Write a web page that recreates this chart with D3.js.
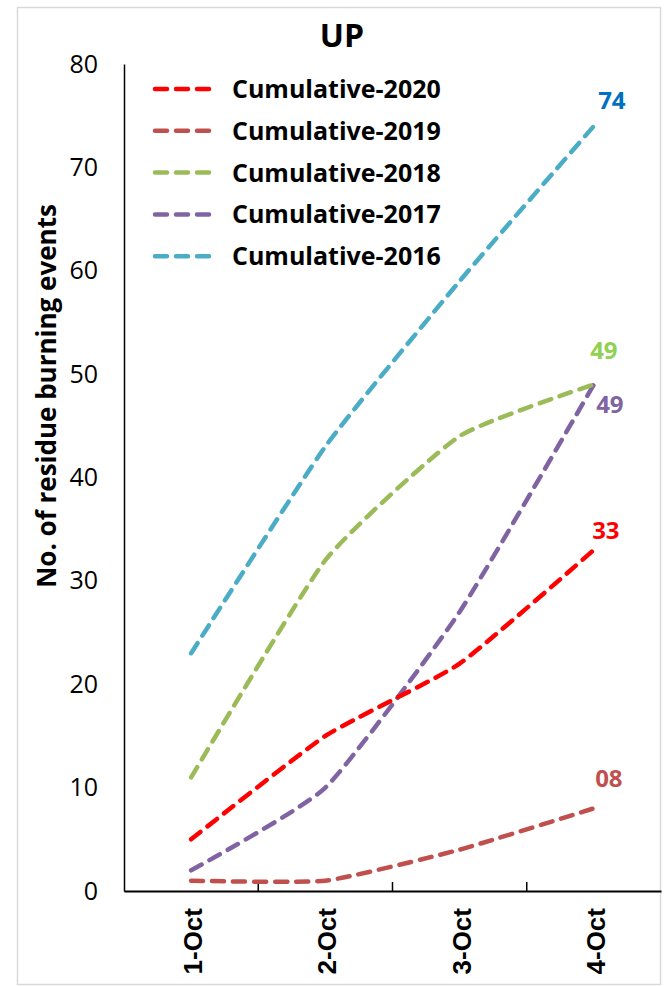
<!DOCTYPE html>
<html>
<head>
<meta charset="utf-8">
<script src="https://cdn.jsdelivr.net/npm/d3@7.9.0/dist/d3.min.js"></script>
<style>
  body { margin: 0; background: #fff; }
  svg { display: block; font-family: "Open Sans", sans-serif; }
</style>
</head>
<body>
<div id="chart"></div>
<script>
const days = ['1-Oct', '2-Oct', '3-Oct', '4-Oct'];
const seriesNames = ['Cumulative-2020', 'Cumulative-2019', 'Cumulative-2018', 'Cumulative-2017', 'Cumulative-2016'];
const values2020 = [5, 15, 22, 33];
const values2019 = [1, 1, 4, 8];
const values2018 = [11, 32, 44, 49];
const values2017 = [2, 10, 27, 49];
const values2016 = [23, 43, 59, 74];
const endLabels = ['33', '08', '49', '49', '74'];
const yTicks = [0, 10, 20, 30, 40, 50, 60, 70, 80];

const lineColors = ['#FF0000', '#C0504D', '#9BBB59', '#8064A2', '#4BACC6'];
const labelColors = ['#FF0000', '#C0504D', '#92D050', '#8064A2', '#0070C0'];
// label offsets from the last point (dx, dy)
const labelOffsets = [[12, -19], [15, -30], [10, -34], [16, 20], [18, -25]];

const series = seriesNames.map((name, i) => ({
  name,
  values: [values2020, values2019, values2018, values2017, values2016][i],
  color: lineColors[i],
  labelColor: labelColors[i],
  label: endLabels[i],
  offset: labelOffsets[i]
}));

const width = 664, height = 986;
const margin = { top: 64, right: 3, bottom: 95, left: 124 };

const svg = d3.select('#chart').append('svg')
  .attr('width', width)
  .attr('height', height);

// outer frame
svg.append('rect')
  .attr('x', 17.5).attr('y', 7.5)
  .attr('width', 643).attr('height', 977)
  .attr('fill', 'none')
  .attr('stroke', '#d9d9d9')
  .attr('stroke-width', 1.5);

const x = d3.scaleBand()
  .domain(days)
  .range([margin.left, width - margin.right]);

const y = d3.scaleLinear()
  .domain([0, 80])
  .range([height - margin.bottom, margin.top]);

// title
svg.append('text')
  .attr('x', 342).attr('y', 47)
  .attr('text-anchor', 'middle')
  .attr('font-size', 32).attr('font-weight', 'bold')
  .text('UP');

// y axis
const yAxis = svg.append('g')
  .attr('transform', `translate(${margin.left},0)`)
  .call(d3.axisLeft(y).tickValues(yTicks).tickSize(0).tickPadding(26));
yAxis.select('.domain').attr('stroke', '#000').attr('stroke-width', 1.5);
yAxis.selectAll('text').attr('font-size', 25).attr('fill', '#000')
  .attr('font-family', '"Open Sans", sans-serif');

// x axis
const xAxis = svg.append('g')
  .attr('transform', `translate(0,${height - margin.bottom})`)
  .call(d3.axisBottom(x).tickSize(0).tickFormat(''));
xAxis.select('.domain').attr('stroke', '#000').attr('stroke-width', 2);
xAxis.selectAll('.tick').remove();

// tick marks at band edges
const edges = days.map(d => x(d));
xAxis.selectAll('line.edge')
  .data(edges.slice(1))
  .join('line')
  .attr('class', 'edge')
  .attr('x1', d => d).attr('x2', d => d)
  .attr('y1', 0).attr('y2', -9)
  .attr('stroke', '#000').attr('stroke-width', 1.5);

xAxis.selectAll('text.day')
  .data(days)
  .join('text')
  .attr('class', 'day')
  .attr('transform', d => `translate(${x(d) + x.bandwidth() / 2 + 11},17) rotate(-90)`)
  .attr('text-anchor', 'end')
  .attr('font-size', 26).attr('font-weight', 'bold')
  .attr('fill', '#000')
  .text(d => d);

// y label
svg.append('text')
  .attr('transform', `translate(56,396) rotate(-90)`)
  .attr('text-anchor', 'middle')
  .attr('font-size', 26).attr('font-weight', 'bold')
  .text('No. of residue burning events');

// lines
const line = d3.line()
  .x((d, i) => x(days[i]) + x.bandwidth() / 2)
  .y(d => y(d))
  .curve(d3.curveCardinal.tension(0.5));

svg.append('g').selectAll('path')
  .data(series.slice().reverse())
  .join('path')
  .attr('d', d => line(d.values))
  .attr('fill', 'none')
  .attr('stroke', d => d.color)
  .attr('stroke-width', 4.5)
  .attr('stroke-dasharray', '12 9')
  .attr('stroke-linecap', 'round');

// end labels
svg.append('g').selectAll('text')
  .data(series)
  .join('text')
  .attr('x', d => x(days[3]) + x.bandwidth() / 2 + d.offset[0])
  .attr('y', d => y(d.values[3]) + d.offset[1])
  .attr('dy', '0.35em')
  .attr('text-anchor', 'middle')
  .attr('font-size', 24).attr('font-weight', 'bold')
  .attr('fill', d => d.labelColor)
  .text(d => d.label);

// legend
const legend = svg.append('g').attr('transform', 'translate(153,89)');
const rows = legend.selectAll('g')
  .data(series)
  .join('g')
  .attr('transform', (d, i) => `translate(0,${i * 41.8})`);
rows.append('line')
  .attr('x1', 2).attr('x2', 61)
  .attr('stroke', d => d.color)
  .attr('stroke-width', 4.5)
  .attr('stroke-dasharray', '12 9')
  .attr('stroke-linecap', 'round');
rows.append('text')
  .attr('x', 79).attr('y', 9)
  .attr('font-size', 25).attr('font-weight', 'bold')
  .text(d => d.name);
</script>
</body>
</html>
